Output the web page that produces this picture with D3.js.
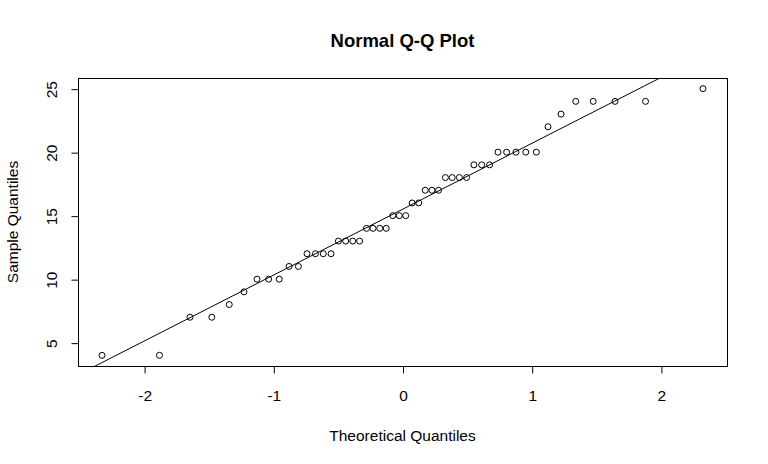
<!DOCTYPE html>
<html><head><meta charset="utf-8">
<script src="https://cdn.jsdelivr.net/npm/d3@7"></script>
<style>body{margin:0;background:#fff}svg{display:block}</style>
</head><body>
<script>
// Theoretical quantiles (qnorm of plotting positions) paired with sorted sample values
const theoretical = [-2.326,-1.881,-1.645,-1.476,-1.341,-1.227,-1.126,-1.036,-0.954,-0.878,
  -0.806,-0.739,-0.674,-0.613,-0.553,-0.496,-0.440,-0.385,-0.332,-0.279,
  -0.228,-0.176,-0.126,-0.075,-0.025,0.025,0.075,0.126,0.176,0.228,
  0.279,0.332,0.385,0.440,0.496,0.553,0.613,0.674,0.739,0.806,
  0.878,0.954,1.036,1.126,1.227,1.341,1.476,1.645,1.881,2.326];
const sample = [4,4,7,7,8,9,10,10,10,11,11,12,12,12,12,13,13,13,13,14,
  14,14,14,15,15,15,16,16,17,17,17,18,18,18,18,19,19,19,20,20,
  20,20,20,22,23,24,24,24,24,25];
const xTicks = [-2,-1,0,1,2];
const yTicks = [5,10,15,20,25];
const qqIntercept = 15.5, qqSlope = 5.189;
const xDomain = [-2.5117, 2.5117];
const yDomain = [3.16, 25.84];

const W=768,H=464, L=78, R=727, T=78, B=366;
const svg=d3.select("body").append("svg").attr("width",W).attr("height",H);
const x=d3.scaleLinear().domain(xDomain).range([L,R]);
const y=d3.scaleLinear().domain(yDomain).range([B,T]);
const font="Liberation Sans, Arial, sans-serif";
const fs=15.5;

svg.append("defs").append("clipPath").attr("id","c").append("rect")
  .attr("x",L).attr("y",T).attr("width",R-L).attr("height",B-T);

svg.append("rect").attr("x",L+0.5).attr("y",T+0.5).attr("width",R-L).attr("height",B-T)
  .attr("fill","none").attr("stroke","#000").attr("stroke-width",1);

const xa=svg.append("g").attr("transform",`translate(0.5,${B+0.5})`)
  .call(d3.axisBottom(x).tickValues(xTicks).tickSize(7).tickFormat(d=>String(d)));
xa.select(".domain").remove();
xa.selectAll(".tick text").attr("font-family",font).attr("font-size",fs).attr("fill","#000")
  .attr("y",34).attr("dy",null);

const ya=svg.append("g").attr("transform",`translate(${L+0.5},0.5)`)
  .call(d3.axisLeft(y).tickValues(yTicks).tickSize(7).tickFormat(d=>String(d)));
ya.select(".domain").remove();
ya.selectAll(".tick text").attr("font-family",font).attr("font-size",fs).attr("fill","#000")
  .attr("x",null).attr("dy",null).attr("text-anchor","middle")
  .attr("transform","translate(-22,0) rotate(-90)");

svg.append("line").attr("clip-path","url(#c)")
  .attr("x1",x(xDomain[0])).attr("y1",y(qqIntercept+qqSlope*xDomain[0]))
  .attr("x2",x(xDomain[1])).attr("y2",y(qqIntercept+qqSlope*xDomain[1]))
  .attr("stroke","#000").attr("stroke-width",1);

svg.append("g").selectAll("circle").data(theoretical).join("circle")
  .attr("cx",d=>x(d)).attr("cy",(d,i)=>y(sample[i])).attr("r",3)
  .attr("fill","none").attr("stroke","#000").attr("stroke-width",1);

svg.append("text").attr("x",(L+R)/2).attr("y",46.5).attr("text-anchor","middle")
  .attr("font-family",font).attr("font-size",18.5).attr("font-weight","bold").text("Normal Q-Q Plot");
svg.append("text").attr("x",(L+R)/2).attr("y",440.5).attr("text-anchor","middle")
  .attr("font-family",font).attr("font-size",fs).text("Theoretical Quantiles");
svg.append("text").attr("transform",`translate(17.5,${(T+B)/2}) rotate(-90)`).attr("text-anchor","middle")
  .attr("font-family",font).attr("font-size",fs).text("Sample Quantiles");
</script>
</body></html>
